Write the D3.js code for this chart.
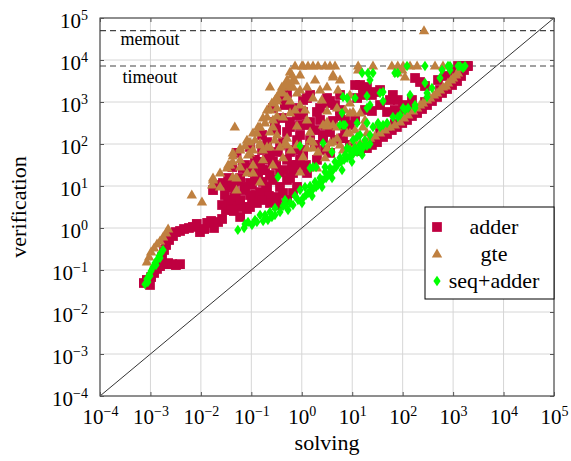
<!DOCTYPE html>
<html><head><meta charset="utf-8">
<script src="https://cdn.jsdelivr.net/npm/d3@7"></script>
<style>body{margin:0;background:#fff}svg{display:block}</style>
</head><body>
<svg id="c" width="571" height="461"></svg>
<script>
// ---- data ----
const tickValues = [1e-4,1e-3,1e-2,1e-1,1e0,1e1,1e2,1e3,1e4,1e5];
const tickExponents = ["\u22124","\u22123","\u22122","\u22121","0","1","2","3","4","5"];
const xTitle = "solving";
const yTitle = "verification";
const limitNames = ["memout","timeout"];
const limitValues = [5e4, 7200];
const seriesNames = ["adder","gte","seq+adder"];
const seriesColors = ["#bf0040","#bf8040","#00ff00"];

const adder = [
[7.4e-4,0.049],[8.5e-4,0.058],[9.8e-4,0.044],[1.03e-3,0.068],[1.18e-3,0.085],[1.35e-3,0.106],[1.55e-3,0.124],[1.86e-3,0.138],[2.24e-3,0.146],[2.68e-3,0.138],[3.2e-3,0.131],[3.86e-3,0.138],
[1.7e-3,0.204],[1.86e-3,0.30],[2.04e-3,0.394],[2.34e-3,0.518],[2.8e-3,0.644],[3.2e-3,0.80],[3.86e-3,0.85],[4.63e-3,0.946],[5.8e-3,1.0],[6.95e-3,1.06],[8.3e-3,1.25],[9.6e-3,0.80],[0.0116,0.946],[0.0133,1.32],[0.0159,1.47],[0.0182,1.0],[0.0219,1.39],[0.0263,1.64],
[0.0314,2.68],[0.038,3.34],[0.045,2.54],[0.054,3.53],[0.068,3.16],[0.082,2.83],[0.103,4.64],[0.124,6.1],[0.156,7.17],[0.196,8.0],[0.223,5.8],
[0.0174,8.0],[0.0219,10.6],[0.0274,11.8],[0.036,10.0],[0.045,9.5],[0.054,13.2],
[0.094,11.8],[0.149,6.8],[0.129,3.94],[0.205,9.5],[0.268,13.9],[0.37,9.5],[0.51,13.9],[0.67,20.4],[0.234,3.94],[0.322,5.47],[0.425,6.8],[0.805,9.5],[1.27,20.4],[2.0,42],[3.63,61.4],[0.06,1.83],[0.043,2.68],[0.094,3.16],[0.205,42],[0.51,42],[1.06,72],[1.46,124],[0.805,124],[0.094,85],[0.051,61.4],[0.042,28.3],[0.075,31.6],[0.108,21.5],[0.06,15.5],[0.149,37.6],[0.17,12.5],[0.082,26.8],[0.030,6.1],[0.047,5.47],[0.075,9.5],[0.118,15.5],[0.187,24],
[0.51,4.64],[0.67,6.8],[0.322,3.53],
[0.294,334],[0.205,111],[0.425,111],[0.51,193],[0.234,55],[0.268,37.6],[0.585,64.5],[0.37,21.5],[0.805,31.6],[1.06,55],[0.585,15.5],[1.27,1244],[1.06,578],[1.46,334],[0.585,334],[0.67,720],[2.0,578],[3.17,1244],[2.64,164],[0.923,164],[0.425,1470],[0.51,1640],[0.466,946],
[1.06,1115],[3.63,1055],[16.3,1930],[24.6,611],[5.73,464],[4.16,353],[2.64,138],[6.57,138],[0.37,95],[0.268,720],[0.805,490],[1.27,283],[0.585,254],[9.0,95],[19.6,80],[24.6,95],[14.3,68],
[31,111],[40.8,147],[49,173],[61,215],[77,254],[98,316],[122,373],[153,464],[193,547],[242,681],[304,848],[381,1055],[480,1317],[603,1640],[758,2038],[952,2540],[1197,3160],[1437,4165],[1645,5780],[1888,7200],
[35.6,183],[70,299],[140,547],[277,999],[550,1930],[1092,4165],
[14.3,2540],[19.6,2276],[28.3,1729],[64,1470],[80,1115],[102,848],[176,3730],[221,2993],[277,2405],[502,3340],[692,4165],[952,5179],[1251,7200],[1571,7200],[1976,7200],[89,578],[128,720],[153,1115],[70,645],[4.56,848],[5.73,645],[12.5,1244],[24.6,1470],[35.6,1930],[7.2,373],[9.0,283],[49,578],[2.89,283],[2.3,373],[3.63,193],[3.17,946],[56,1115],
[0.0347,4.64],[0.049,6.1],[0.072,8.0],[0.103,10.6],[0.136,15.5],[0.163,24],[0.234,18.3],[0.31,31.6],[0.445,24],[0.64,31.6],[0.923,42],[1.21,31.6],[0.735,72],[0.337,64.5],[0.163,72],[0.118,42],[0.068,26.8],[0.0347,15.5],
[0.163,164],[0.31,215],[0.405,416],[0.923,283],[1.83,215],[1.83,95],[2.89,72],[4.56,124],[7.2,215],[11.4,373],[17.9,645],[35.6,848],[17.9,1470],[11.4,2540],[5.73,1470],[2.3,720],[0.923,490],[0.466,848],[1.46,1470],
[0.094,6.1],[0.06,4.64],[0.042,9.5],[0.163,4.64],[0.0263,3.53]
];

const gte = [
[8.5e-4,0.155],[9.4e-4,0.204],[1.03e-3,0.269],[1.18e-3,0.335],[1.35e-3,0.416],[1.55e-3,0.49],[1.78e-3,0.61],[2.04e-3,0.76],[2.24e-3,0.946],
[6.6e-3,6.1],[0.0105,4.16],[0.0167,10.6],[0.0174,13.9],[0.024,20.4],[0.047,254],[0.038,31.6],[0.060,72],[0.043,52],[0.082,124],[0.108,183],[0.149,254],[0.205,645],[0.256,946],[0.322,1317],[0.405,2276],[0.51,3340],[0.585,5179],[0.735,7200],
[0.024,9.5],[0.043,16.4],[0.108,72],[0.06,28.3],[0.149,105],[0.268,373],[0.425,439],[0.205,85],[0.082,20.4],[0.51,1317],[0.67,2276],[0.234,193],
[1.06,7200],[1.67,7200],[0.923,4400],[0.67,3340],[0.585,2276],[0.425,1640],[0.234,2276],[0.322,1244],[0.805,1640],[1.27,2276],[0.234,645],[0.322,720],[0.205,439],[0.06,80],[0.094,111],[0.129,183],[0.149,95],[0.086,55],[0.108,31.6],[0.043,37.6],[0.033,26.8],[0.0174,15.5],[0.051,15.5],[0.51,95],[1.27,80],[1.67,111],[1.46,193],[2.64,283],[3.17,80],[2.0,26.8],[0.425,46.9],[0.923,21.5],[0.268,254],[0.187,316],
[1.01,7200],[1.33,7200],[2.89,7200],[4.56,7200],[25.8,7200],[0.735,3160],[0.534,2835],[4.16,4400],[2.3,1930],[5.23,1930],[1.67,1244],[2.5,1115],[9.0,946],[14.3,547],[9.0,547],[3.17,611],[0.322,1055],[0.585,1055],[0.923,848],[0.322,464],[0.585,547],[1.27,373],[0.805,268],[3.17,268],[4.16,283],[5.0,138],[7.9,183],[1.46,124],[0.805,95],[1.67,80],[0.322,164],[0.51,138],
[3.63,7200],[13.1,7200],[61,7200],[80,7200],[102,7200],[140,7200],[193,7200],[438,7200],[630,7200],[2.1,7200],[265,5e4],
[4.16,3940],[3.17,2276],[80,4900],[13.1,5780],[98,5780],[111,3940],
[5.0,720],[3.17,334],[10.4,578],[5.0,254],[9.0,183],[4.16,111],[16.3,254],[31,283],[49,254],
[22.5,138],[28.3,155],[35.6,183],[44.7,215],[56,254],[70,283],[89,334],[106,416],[128,490],[160,611],[193,720],[221,848],[253,946],[304,1115],[348,1244],[418,1470],[480,1640],[550,1930],[630,2276],[724,2405],[792,2835],[910,3340],[996,3730],[1143,4400],[1251,4900],[1372,6450],
[17.9,117],[14.3,105],[11.4,90],[9.0,80],[3.63,105],[5.73,95],[10.4,124],[19.6,183],
[0.043,61.4],[0.06,42],[0.094,61.4],[0.108,20.4],[0.17,42],[0.268,31.6],[0.051,8.0],[0.149,12.5],[0.37,85],[0.466,105],[0.61,72],[0.234,85],
[1.06,50],[2.1,64.5],
[0.075,90],[0.0347,31.6],[0.136,254],[0.17,416],[0.294,1115],[0.37,1729],[0.466,2540],[0.64,4400],
[0.118,124],[0.17,72],[0.294,124],[0.735,645],[1.16,645],[0.923,1930],[1.83,3340],[5.73,3340],[9.0,1470],[7.2,645],[17.9,373],[11.4,215],[2.89,46.9],[6.6,72]
];

const seqAdder = [
[7.8e-4,0.046],[8.5e-4,0.061],[9.4e-4,0.076],[1.03e-3,0.095],[1.12e-3,0.117],[1.23e-3,0.146],[1.35e-3,0.173],[1.48e-3,0.216],[1.62e-3,0.254],[1.78e-3,0.30],[8.9e-4,0.052],[1.29e-3,0.131],[9.8e-4,0.072],[1.55e-3,0.193],
[0.054,0.9],[0.072,1.0],[0.103,1.18],[0.129,1.39],[0.171,1.47],[0.213,1.55],[0.256,1.83],[0.294,2.04],[0.37,2.40],[0.425,3.34],[0.534,2.68],[0.67,3.53],[0.84,4.64],[0.923,8.0],[1.06,5.18],[1.21,6.1],[1.33,6.8],[1.53,7.57],[1.67,8.45],[1.92,9.5],[2.1,10.6],[2.41,12.5],[2.64,13.9],[3.03,15.5],[3.31,18.3],[3.8,21.5],[4.16,24],[4.77,28.3],[5.23,33.4],[6.0,37.6],[6.9,42],[7.9,46.9],[9.0,52],[10.4,58],[12.5,64.5],[14.3,72],[16.3,80],[19.6,90],[22.5,100],
[0.466,4.64],[0.735,5.8],[1.16,9.5],[1.83,12.5],[2.89,21.5],[4.56,37.6],[7.2,55],[11.4,80],[17.9,124],[0.149,2.04],[0.086,1.39],[0.234,2.40],
[0.337,16.4],[0.923,90],[1.46,26.8],[1.92,28.3],[2.89,28.3],[2.64,105],[3.98,64.5],[1.67,28.3],[6.28,547],[6.57,283],[7.9,1244],[11.4,1244],[15.7,4900],[20.5,4900],[25.8,4900],[22.5,3340],[19.6,1390],[22.5,848],[19.6,720],[35.6,1640],[40.8,1055],[7.2,283],[12.5,316],[19.6,316],[25.8,254],[35.6,254],[14.3,164],[22.5,164],[10.4,124],[7.9,80],[12.5,147],[16.3,85],
[80,4900],[122,7200],[277,7200],[603,5780],[869,7200],[1251,7200],[1723,7200],[140,1470],[277,2835],[304,1640],[176,720],[102,720],[64,439],[40.8,283],[40.8,1729],[70,4900],[792,7200],[1372,7200],[1571,6450],
[6.57,1317],[5.73,283],[32.5,316],[89,490],[128,720],[49,316],[80,439],[111,645],[176,848],[304,1317],[381,2157],[550,3730],[869,5780],
[0.075,1.25],[0.118,1.55],[0.187,2.04],[0.294,2.99],[0.466,3.53],[0.585,3.94],[1.46,10.0],[2.3,15.5],[3.63,26.8],[5.73,46.9],[9.0,72],[14.3,95],
[1.01,3.94],[1.6,5.8],[2.52,9.5],[3.98,15.5],[6.28,24],[9.86,37.6],[15.7,55]
];
const seriesData = [adder, gte, seqAdder];

// ---- drawing ----
const FONT = "'Liberation Serif','Times New Roman',serif";
const svg = d3.select("#c");
const plotLeft = 100, plotRight = 554, plotTop = 18, plotBottom = 396;
const x = d3.scaleLog().domain([1e-4,1e5]).range([plotLeft,plotRight]);
const y = d3.scaleLog().domain([1e-4,1e5]).range([plotBottom,plotTop]);

svg.append("rect").attr("width",571).attr("height",461).attr("fill","#fff");

// grid
const grid = svg.append("g").attr("stroke","#d6d6d6").attr("stroke-width",1);
tickValues.forEach(v => {
  grid.append("line").attr("x1",x(v)).attr("x2",x(v)).attr("y1",plotTop).attr("y2",plotBottom);
  grid.append("line").attr("y1",y(v)).attr("y2",y(v)).attr("x1",plotLeft).attr("x2",plotRight);
});

// diagonal y = x
svg.append("line")
  .attr("x1",x(1e-4)).attr("y1",y(1e-4)).attr("x2",x(1e5)).attr("y2",y(1e5))
  .attr("stroke","#333").attr("stroke-width",1);

// limit lines
limitValues.forEach((v,i) => {
  svg.append("line").attr("x1",plotLeft).attr("x2",plotRight).attr("y1",y(v)).attr("y2",y(v))
    .attr("stroke","#444").attr("stroke-width",1.2).attr("stroke-dasharray","6,4");
});
svg.append("text").attr("x",150).attr("y",y(limitValues[0])+14.5)
  .attr("text-anchor","middle").attr("font-family",FONT).attr("font-size",18).text(limitNames[0]);
svg.append("text").attr("x",150).attr("y",y(limitValues[1])+17)
  .attr("text-anchor","middle").attr("font-family",FONT).attr("font-size",18).text(limitNames[1]);

// markers
const squarePath = d3.symbol(d3.symbolSquare, 95)();
const trianglePath = "M0,-5.4L5.2,3.5L-5.2,3.5Z";
const diamondPath = "M0,-5.2L3.6,0L0,5.2L-3.6,0Z";
const shapes = [squarePath, trianglePath, diamondPath];

seriesData.forEach((data, si) => {
  svg.append("g").selectAll("path").data(data).enter().append("path")
    .attr("d", shapes[si])
    .attr("transform", d => `translate(${x(d[0])},${y(d[1])})`)
    .attr("fill", seriesColors[si]);
});

// frame
svg.append("rect").attr("x",plotLeft).attr("y",plotTop).attr("width",plotRight-plotLeft).attr("height",plotBottom-plotTop)
  .attr("fill","none").attr("stroke","#333").attr("stroke-width",1);

// axes with inward ticks
function styleAxis(g){
  g.select(".domain").remove();
  g.selectAll(".tick line").attr("stroke","#555");
  g.selectAll(".tick text").remove();
}
const gx = svg.append("g").attr("transform",`translate(0,${plotBottom})`)
  .call(d3.axisBottom(x).tickValues(tickValues).tickSize(-4).tickFormat(""));
styleAxis(gx);
gx.selectAll(".tick").append("text")
  .attr("y",28).attr("text-anchor","middle").attr("fill","#000")
  .attr("font-family",FONT).attr("font-size",21)
  .each(function(d,i){
    const t = d3.select(this);
    t.append("tspan").text("10");
    t.append("tspan").attr("dy",-8).attr("font-size",14).text(tickExponents[i]);
  });

const gy = svg.append("g").attr("transform",`translate(${plotLeft},0)`)
  .call(d3.axisLeft(y).tickValues(tickValues).tickSize(-4).tickFormat(""));
styleAxis(gy);
gy.selectAll(".tick").append("text")
  .attr("x",-12).attr("y",9).attr("text-anchor","end").attr("fill","#000")
  .attr("font-family",FONT).attr("font-size",21)
  .each(function(d,i){
    const t = d3.select(this);
    t.append("tspan").text("10");
    t.append("tspan").attr("dy",-8).attr("font-size",14).text(tickExponents[i]);
  });

const gt = svg.append("g").attr("transform",`translate(0,${plotTop})`)
  .call(d3.axisTop(x).tickValues(tickValues).tickSize(-4).tickFormat(""));
styleAxis(gt);
const gr = svg.append("g").attr("transform",`translate(${plotRight},0)`)
  .call(d3.axisRight(y).tickValues(tickValues).tickSize(-4).tickFormat(""));
styleAxis(gr);

// axis titles
svg.append("text").attr("x",(plotLeft+plotRight)/2).attr("y",450).attr("text-anchor","middle")
  .attr("font-family",FONT).attr("font-size",22).text(xTitle);
svg.append("text").attr("transform",`translate(26,${(plotTop+plotBottom)/2}) rotate(-90)`)
  .attr("text-anchor","middle").attr("font-family",FONT).attr("font-size",22).text(yTitle);

// legend
const lg = svg.append("g");
lg.append("rect").attr("x",425).attr("y",207).attr("width",plotRight-425).attr("height",92)
  .attr("fill","#fff").attr("stroke","#000").attr("stroke-width",1);
seriesNames.forEach((name,i) => {
  const cy = 227 + i*27;
  lg.append("path").attr("d",shapes[i]).attr("transform",`translate(437,${cy})`)
    .attr("fill",seriesColors[i]);
  lg.append("text").attr("x",494).attr("y",cy+7).attr("text-anchor","middle")
    .attr("font-family",FONT).attr("font-size",22).text(name);
});
</script>
</body></html>
